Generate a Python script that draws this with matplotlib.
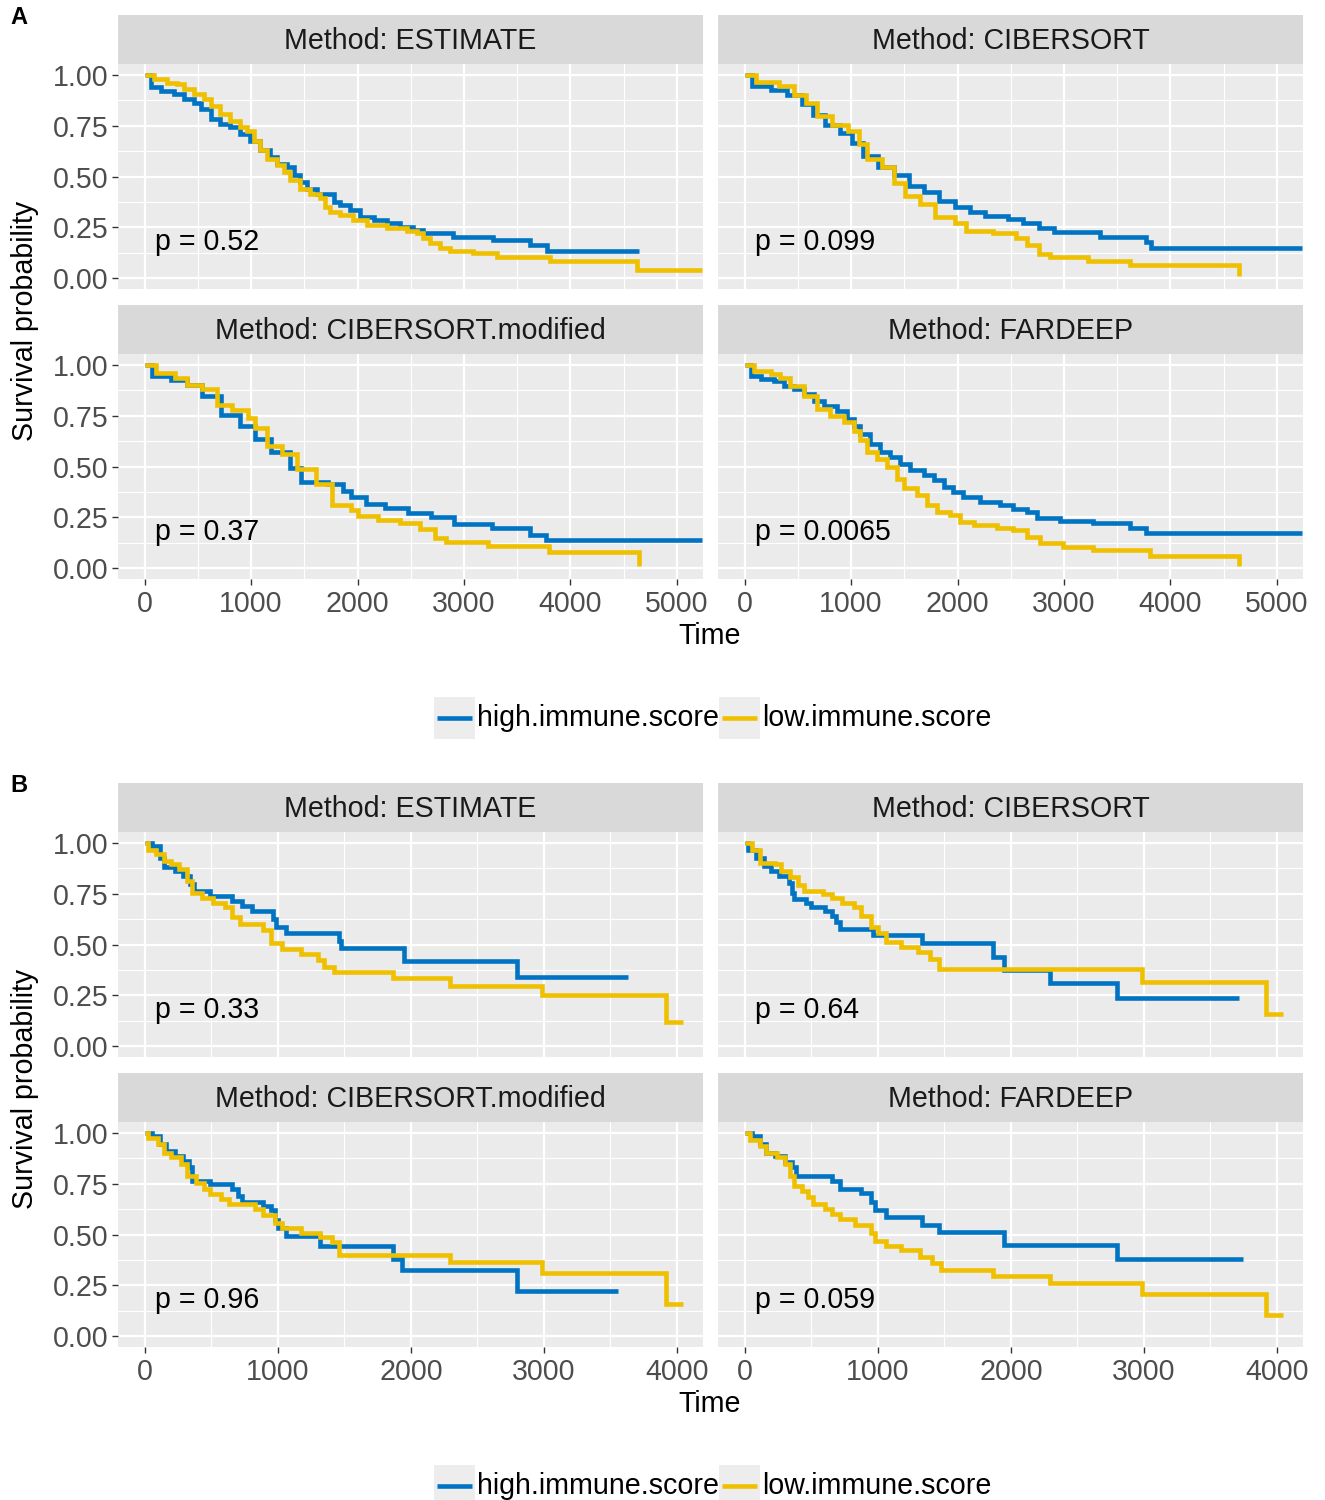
import matplotlib
matplotlib.use("Agg")
import matplotlib.pyplot as plt
from matplotlib.patches import Rectangle
from matplotlib.lines import Line2D

# ---------------- data ----------------
methods = ["ESTIMATE", "CIBERSORT", "CIBERSORT.modified", "FARDEEP"]
groups = ["high.immune.score", "low.immune.score"]
colors = ["#0073C2", "#EFC000"]

pvals_A = ["0.52", "0.099", "0.37", "0.0065"]
pvals_B = ["0.33", "0.64", "0.96", "0.059"]

xticks_A = [0, 1000, 2000, 3000, 4000, 5000]
xticks_B = [0, 1000, 2000, 3000, 4000]
yticks = [0.0, 0.25, 0.5, 0.75, 1.0]
ytick_labels = ["0.00", "0.25", "0.50", "0.75", "1.00"]

# ---- Panel A ----
A_est_high_t = [0, 56, 150, 275, 369, 462, 525, 619, 712, 806, 900, 994, 1087, 1181, 1244, 1337, 1400, 1462, 1525, 1619, 1775, 1837, 1931, 2025, 2150, 2275, 2400, 2525, 2619, 2900, 3275, 3619, 3784, 4645]
A_est_high_s = [1.0, 0.94, 0.922, 0.905, 0.881, 0.861, 0.832, 0.783, 0.759, 0.742, 0.71, 0.677, 0.628, 0.595, 0.563, 0.546, 0.506, 0.473, 0.44, 0.416, 0.375, 0.359, 0.334, 0.302, 0.285, 0.269, 0.253, 0.237, 0.22, 0.204, 0.188, 0.163, 0.135, 0.135]
A_est_low_t = [0, 87, 212, 306, 369, 462, 556, 619, 712, 806, 900, 962, 1025, 1087, 1150, 1244, 1306, 1369, 1462, 1556, 1650, 1697, 1744, 1837, 1962, 2087, 2275, 2462, 2556, 2619, 2681, 2775, 2869, 3087, 3306, 3806, 4627, 5240]
A_est_low_s = [1.0, 0.979, 0.962, 0.954, 0.93, 0.905, 0.881, 0.848, 0.807, 0.775, 0.742, 0.726, 0.677, 0.628, 0.587, 0.555, 0.522, 0.481, 0.44, 0.416, 0.392, 0.351, 0.326, 0.31, 0.285, 0.261, 0.245, 0.233, 0.22, 0.196, 0.171, 0.147, 0.131, 0.122, 0.106, 0.082, 0.04, 0.04]

A_cib_high_t = [0, 72, 251, 395, 538, 646, 753, 897, 1004, 1112, 1255, 1399, 1542, 1686, 1829, 1973, 2116, 2260, 2475, 2619, 2762, 2905, 3336, 3766, 3820, 5240]
A_cib_high_s = [1.0, 0.945, 0.925, 0.90, 0.855, 0.805, 0.755, 0.715, 0.665, 0.60, 0.545, 0.505, 0.455, 0.425, 0.38, 0.35, 0.325, 0.305, 0.29, 0.27, 0.245, 0.225, 0.20, 0.18, 0.15, 0.15]
A_cib_low_t = [0, 108, 323, 466, 574, 682, 825, 969, 1076, 1148, 1291, 1399, 1506, 1650, 1793, 1973, 2080, 2332, 2547, 2654, 2762, 2870, 3228, 3623, 4627, 4640]
A_cib_low_s = [1.0, 0.965, 0.945, 0.90, 0.86, 0.80, 0.755, 0.725, 0.66, 0.585, 0.545, 0.47, 0.405, 0.365, 0.30, 0.27, 0.23, 0.22, 0.195, 0.165, 0.12, 0.105, 0.085, 0.065, 0.065, 0.01]

A_cibm_high_t = [0, 72, 251, 395, 538, 717, 897, 1040, 1184, 1363, 1471, 1722, 1865, 1937, 2080, 2260, 2475, 2690, 2905, 3264, 3623, 3766, 5240]
A_cibm_high_s = [1.0, 0.945, 0.925, 0.90, 0.845, 0.755, 0.70, 0.635, 0.57, 0.495, 0.425, 0.415, 0.38, 0.35, 0.315, 0.295, 0.27, 0.25, 0.215, 0.195, 0.165, 0.14, 0.14]
A_cibm_low_t = [0, 108, 287, 395, 538, 682, 825, 969, 1040, 1148, 1291, 1435, 1614, 1758, 1937, 2009, 2188, 2403, 2583, 2726, 2834, 3228, 3802, 4627, 4640]
A_cibm_low_s = [1.0, 0.96, 0.935, 0.90, 0.88, 0.805, 0.78, 0.74, 0.69, 0.60, 0.56, 0.49, 0.415, 0.31, 0.285, 0.255, 0.235, 0.22, 0.19, 0.15, 0.13, 0.11, 0.08, 0.08, 0.01]

A_far_high_t = [0, 56, 150, 275, 369, 462, 556, 650, 744, 869, 962, 1025, 1087, 1181, 1275, 1369, 1462, 1556, 1681, 1775, 1869, 1962, 2056, 2212, 2400, 2525, 2650, 2744, 2962, 3275, 3619, 3770, 5240]
A_far_high_s = [1.0, 0.946, 0.93, 0.922, 0.897, 0.881, 0.856, 0.824, 0.799, 0.775, 0.734, 0.701, 0.661, 0.612, 0.571, 0.546, 0.514, 0.481, 0.457, 0.432, 0.40, 0.375, 0.351, 0.326, 0.31, 0.29, 0.277, 0.245, 0.233, 0.22, 0.196, 0.171, 0.171]
A_far_low_t = [0, 87, 244, 337, 431, 556, 681, 806, 931, 1025, 1087, 1150, 1244, 1337, 1431, 1494, 1619, 1712, 1806, 1931, 2025, 2150, 2369, 2525, 2650, 2775, 2994, 3275, 3806, 4627, 4640]
A_far_low_s = [1.0, 0.971, 0.954, 0.938, 0.897, 0.848, 0.783, 0.75, 0.718, 0.677, 0.628, 0.571, 0.538, 0.498, 0.44, 0.392, 0.359, 0.31, 0.277, 0.261, 0.228, 0.212, 0.196, 0.188, 0.155, 0.122, 0.106, 0.09, 0.06, 0.06, 0.01]

# ---- Panel B ----
B_est_high_t = [0, 57, 115, 143, 230, 287, 344, 373, 488, 660, 732, 803, 961, 990, 1062, 1463, 1478, 1951, 2797, 3629]
B_est_high_s = [1.0, 0.985, 0.925, 0.88, 0.86, 0.835, 0.80, 0.765, 0.74, 0.715, 0.69, 0.665, 0.625, 0.585, 0.555, 0.515, 0.485, 0.42, 0.34, 0.34]
B_est_low_t = [0, 29, 86, 143, 201, 258, 316, 359, 430, 516, 602, 660, 717, 889, 947, 1033, 1176, 1305, 1348, 1420, 1865, 2295, 2984, 3916, 4045]
B_est_low_s = [1.0, 0.965, 0.945, 0.91, 0.895, 0.87, 0.815, 0.755, 0.73, 0.705, 0.685, 0.635, 0.60, 0.57, 0.505, 0.48, 0.455, 0.425, 0.39, 0.365, 0.335, 0.295, 0.25, 0.12, 0.12]

B_cib_high_t = [0, 29, 86, 143, 201, 258, 330, 359, 373, 459, 502, 602, 660, 689, 717, 961, 1334, 1865, 1951, 2295, 2797, 3716]
B_cib_high_s = [1.0, 0.965, 0.925, 0.885, 0.86, 0.835, 0.805, 0.755, 0.725, 0.705, 0.685, 0.665, 0.64, 0.61, 0.575, 0.545, 0.505, 0.44, 0.375, 0.31, 0.235, 0.235]
B_cib_low_t = [0, 57, 115, 230, 273, 344, 402, 445, 588, 660, 732, 818, 875, 947, 1004, 1062, 1176, 1305, 1391, 1463, 2984, 3916, 4045]
B_cib_low_s = [1.0, 0.965, 0.90, 0.895, 0.86, 0.83, 0.795, 0.765, 0.75, 0.73, 0.705, 0.685, 0.64, 0.585, 0.555, 0.51, 0.49, 0.465, 0.43, 0.38, 0.315, 0.16, 0.16]

B_cibm_high_t = [0, 57, 115, 158, 230, 287, 330, 359, 488, 660, 703, 732, 889, 947, 976, 1004, 1062, 1320, 1865, 1937, 2797, 3558]
B_cibm_high_s = [1.0, 0.985, 0.945, 0.91, 0.885, 0.86, 0.83, 0.765, 0.75, 0.725, 0.69, 0.66, 0.64, 0.62, 0.57, 0.53, 0.495, 0.445, 0.38, 0.325, 0.22, 0.22]
B_cibm_low_t = [0, 29, 100, 143, 201, 273, 316, 387, 445, 488, 574, 631, 832, 889, 976, 1033, 1176, 1320, 1406, 1463, 2295, 2984, 3916, 4045]
B_cibm_low_s = [1.0, 0.975, 0.945, 0.90, 0.88, 0.845, 0.79, 0.755, 0.725, 0.70, 0.675, 0.65, 0.625, 0.595, 0.555, 0.53, 0.505, 0.49, 0.465, 0.40, 0.365, 0.31, 0.16, 0.16]

B_far_high_t = [0, 57, 115, 158, 230, 301, 359, 387, 660, 717, 875, 947, 976, 1062, 1334, 1463, 1951, 2797, 3744]
B_far_high_s = [1.0, 0.985, 0.945, 0.90, 0.885, 0.855, 0.83, 0.79, 0.765, 0.725, 0.705, 0.66, 0.62, 0.585, 0.545, 0.51, 0.45, 0.38, 0.38]
B_far_low_t = [0, 43, 115, 158, 244, 301, 344, 373, 430, 473, 516, 602, 660, 717, 832, 947, 976, 1062, 1176, 1320, 1406, 1478, 1865, 2295, 2984, 3916, 4045]
B_far_low_s = [1.0, 0.965, 0.935, 0.90, 0.88, 0.845, 0.79, 0.74, 0.715, 0.685, 0.65, 0.625, 0.60, 0.575, 0.545, 0.505, 0.47, 0.445, 0.425, 0.39, 0.36, 0.325, 0.295, 0.26, 0.205, 0.105, 0.105]

curves_A = [
    [(A_est_high_t, A_est_high_s), (A_est_low_t, A_est_low_s)],
    [(A_cib_high_t, A_cib_high_s), (A_cib_low_t, A_cib_low_s)],
    [(A_cibm_high_t, A_cibm_high_s), (A_cibm_low_t, A_cibm_low_s)],
    [(A_far_high_t, A_far_high_s), (A_far_low_t, A_far_low_s)],
]
curves_B = [
    [(B_est_high_t, B_est_high_s), (B_est_low_t, B_est_low_s)],
    [(B_cib_high_t, B_cib_high_s), (B_cib_low_t, B_cib_low_s)],
    [(B_cibm_high_t, B_cibm_high_s), (B_cibm_low_t, B_cibm_low_s)],
    [(B_far_high_t, B_far_high_s), (B_far_low_t, B_far_low_s)],
]

# ---------------- figure ----------------
W, H = 1325, 1500
fig = plt.figure(figsize=(W / 100, H / 100), dpi=100)
plt.rcParams['font.family'] = ['Liberation Sans', 'DejaVu Sans']

FS = 20.6
PANEL_BG = "#EBEBEB"
STRIP_BG = "#D9D9D9"


def fx(x):
    return x / W


def fy(y):
    return 1 - y / H


def make_panel(x0, x1, strip_top, ytop, ybot, title, xlim, xticks, curves, ptext,
               show_x, show_y):
    # strip
    sax = fig.add_axes([fx(x0), fy(ytop), (x1 - x0) / W, (ytop - strip_top) / H])
    sax.set_facecolor(STRIP_BG)
    sax.set_xticks([])
    sax.set_yticks([])
    for sp in sax.spines.values():
        sp.set_visible(False)
    sax.text(0.5, 0.47, title, ha="center", va="center", fontsize=FS,
             color="#1A1A1A", transform=sax.transAxes)

    ax = fig.add_axes([fx(x0), fy(ybot), (x1 - x0) / W, (ybot - ytop) / H])
    ax.set_facecolor(PANEL_BG)
    for sp in ax.spines.values():
        sp.set_visible(False)
    ax.set_xlim(*xlim)
    ax.set_ylim(-0.055, 1.055)
    ax.set_xticks(xticks)
    ax.set_xticks([v + 500 for v in xticks[:-1]], minor=True)
    ax.set_yticks(yticks)
    ax.set_yticklabels(ytick_labels)
    ax.set_yticks([0.125, 0.375, 0.625, 0.875], minor=True)
    ax.grid(which="major", color="white", lw=1.6)
    ax.grid(which="minor", color="white", lw=0.8)
    ax.set_axisbelow(True)
    ax.tick_params(which="minor", length=0)
    ax.tick_params(which="major", length=4, width=1.0, color="#333333",
                   labelcolor="#4D4D4D", labelsize=FS, pad=3)
    ax.tick_params(axis="x", which="major", pad=4)
    if not show_x:
        ax.tick_params(axis="x", which="major", bottom=False, labelbottom=False)
    if not show_y:
        ax.tick_params(axis="y", which="major", left=False, labelleft=False)

    for (t, s), c in zip(curves, colors):
        ax.plot(t, s, drawstyle="steps-post", color=c, lw=3.3,
                solid_capstyle="butt", solid_joinstyle="miter")
    ax.text(0.063, 0.14, "p = " + ptext, transform=ax.get_yaxis_transform(),
            ha="left", va="baseline", fontsize=FS, color="black")
    return ax


def make_figure_block(y_offset, xlim, xticks, curves, pvals, letter):
    rows = [(15, 63.75, 289.25), (305, 353.75, 579.25)]
    cols = [(118, 703), (718, 1303)]
    k = 0
    for r, (st, yt, yb) in enumerate(rows):
        for c, (x0, x1) in enumerate(cols):
            make_panel(x0, x1, st + y_offset, yt + y_offset, yb + y_offset,
                       "Method: " + methods[k], xlim, xticks, curves[k], pvals[k],
                       show_x=(r == 1), show_y=(c == 0))
            k += 1
    fig.text(fx(25), fy(321 + y_offset), "Survival probability", rotation=90,
             ha="center", va="center", fontsize=FS, color="black")
    fig.text(fx(710), fy(636 + y_offset), "Time", ha="center", va="center",
             fontsize=FS, color="black")
    fig.text(fx(19), fy(18 + y_offset), letter, ha="center", va="center",
             fontsize=17, fontweight="bold", color="black")
    # legend
    ly = 718 + y_offset
    keys = [(434, 477), (719, 762)]
    for (kx, tx), c, lab in zip(keys, colors, groups):
        fig.add_artist(Rectangle((fx(kx), fy(ly + 21)), 41 / W, 42 / H,
                                 transform=fig.transFigure, facecolor="#EDEDED",
                                 edgecolor="none"))
        fig.add_artist(Line2D([fx(kx + 3), fx(kx + 38)], [fy(ly), fy(ly)],
                              transform=fig.transFigure, color=c, lw=3.3,
                              solid_capstyle="butt"))
        fig.text(fx(tx), fy(ly), lab, ha="left", va="center", fontsize=FS,
                 color="black")


make_figure_block(0, (-250, 5245), xticks_A, curves_A, pvals_A, "A")
make_figure_block(768, (-200, 4195), xticks_B, curves_B, pvals_B, "B")

fig.savefig("out.png", dpi=100, facecolor="white")
